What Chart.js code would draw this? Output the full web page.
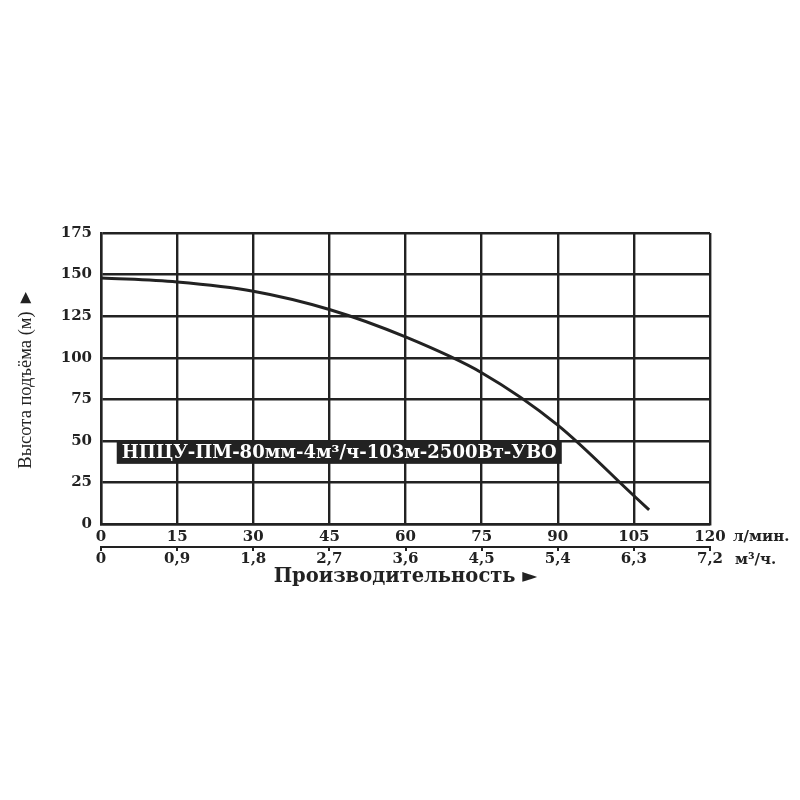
<!DOCTYPE html>
<html>
<head>
<meta charset="utf-8">
<script src="https://cdn.jsdelivr.net/npm/chart.js@4"></script>
<style>
  html, body { margin: 0; padding: 0; background: #fff; }
  #wrap { width: 800px; height: 800px; }
</style>
</head>
<body>
<div id="wrap"><canvas id="pumpChart" width="800" height="800"></canvas></div>
<script>
// pump curve
const flowLpm = [0, 15, 30, 45, 60, 75, 90, 105, 108];
const headM = [148, 145.5, 140, 129, 112.5, 91, 59.5, 17, 8.5];
const m3hTicks = ['0', '0,9', '1,8', '2,7', '3,6', '4,5', '5,4', '6,3', '7,2'];
const modelName = 'НПЦУ-ПМ-80мм-4м³/ч-103м-2500Вт-УВО';

const ink = '#222';
const heavy = '"DejaVu Serif", serif';
const serif = '"Liberation Serif", "Times New Roman", serif';

// model label box + unit captions
const extras = {
    id: 'extras',
    afterDraw(chart) {
        const ctx = chart.ctx;
        const x = chart.scales.x;
        const x2 = chart.scales.x2;
        const y = chart.scales.y;
        ctx.save();

        // dark label box with white text
        ctx.font = 'bold 18px ' + heavy;
        const left = x.getPixelForValue(3.1);
        const top = y.getPixelForValue(50);
        const w = ctx.measureText(modelName).width + 10;
        ctx.fillStyle = '#222';
        ctx.fillRect(left, top, w, 23);
        ctx.fillStyle = '#fff';
        ctx.textBaseline = 'middle';
        ctx.textAlign = 'left';
        ctx.fillText(modelName, left + 5, top + 12);

        // units next to the last tick labels
        ctx.fillStyle = ink;
        ctx.font = 'bold 15px ' + heavy;
        ctx.fillText('л/мин.', x.right + 23, 537);
        ctx.fillText('м³/ч.', x2.right + 25, 560);
        ctx.restore();
    }
};

new Chart(document.getElementById('pumpChart').getContext('2d'), {
    type: 'line',
    data: {
        datasets: [{
            data: flowLpm.map((f, i) => ({ x: f, y: headM[i] })),
            borderColor: ink,
            borderWidth: 3,
            pointRadius: 0,
            tension: 0.4,
            cubicInterpolationMode: 'monotone',
            fill: false
        }]
    },
    options: {
        responsive: false,
        animation: false,
        layout: { padding: { top: 233, right: 90, bottom: 211, left: 0 } },
        plugins: { legend: { display: false }, tooltip: { enabled: false } },
        scales: {
            x: {
                type: 'linear',
                position: 'bottom',
                min: 0,
                max: 120,
                ticks: { stepSize: 15, color: ink, padding: 4, font: { family: heavy, size: 15, weight: 'bold' }, maxRotation: 0 },
                grid: { color: ink, lineWidth: 2.4, drawTicks: false },
                border: { color: ink, width: 2.4 },
                afterFit(s) { s.height = 23; }
            },
            x2: {
                type: 'linear',
                position: 'bottom',
                min: 0,
                max: 120,
                ticks: {
                    stepSize: 15,
                    color: ink,
                    padding: 1,
                    maxRotation: 0,
                    font: { family: heavy, size: 15, weight: 'bold', lineHeight: 1 },
                    callback: (v, i) => m3hTicks[i]
                },
                grid: { drawOnChartArea: false, drawTicks: true, tickLength: 4, color: ink, lineWidth: 2 },
                border: { display: true, color: ink, width: 2 },
                title: {
                    display: true,
                    text: 'Производительность ►',
                    color: ink,
                    padding: { top: 0, bottom: 0 },
                    font: { family: heavy, size: 19.5, weight: 'bold' }
                },
                afterFit(s) { s.height = 42; }
            },
            y: {
                min: 0,
                max: 175,
                ticks: { stepSize: 25, color: ink, padding: 9, font: { family: heavy, size: 15, weight: 'bold' } },
                grid: { color: ink, lineWidth: 2.4, drawTicks: false },
                border: { color: ink, width: 2.4 },
                title: {
                    display: true,
                    text: 'Высота подъёма (м) ►',
                    color: ink,
                    padding: { top: 15, bottom: 0 },
                    font: { family: serif, size: 18.5, weight: 'normal' }
                },
                afterFit(s) { s.width = 101; }
            }
        }
    },
    plugins: [extras]
});
</script>
</body>
</html>
